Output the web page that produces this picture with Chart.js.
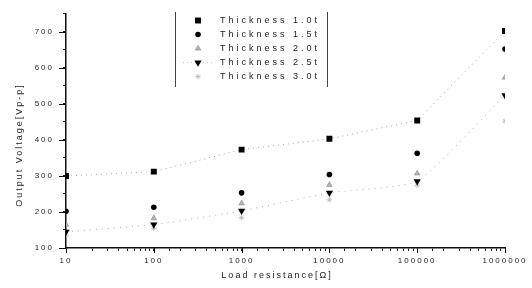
<!DOCTYPE html>
<html>
<head>
<meta charset="utf-8">
<script src="https://cdn.jsdelivr.net/npm/chart.js@4/dist/chart.umd.min.js"></script>
<style>
  html, body { margin: 0; padding: 0; background: #fff; }
  #wrap { position: relative; width: 532px; height: 288px; }
</style>
</head>
<body>
<div id="wrap"><canvas id="mainChart" width="532" height="288"></canvas></div>
<script>
// values
const resistance = [10, 100, 1000, 10000, 100000, 1000000];
const thick10 = [300, 312, 373, 403, 454, 702];
const thick15 = [202, 213, 253, 304, 363, 652];
const thick20 = [165, 183, 224, 275, 307, 573];
const thick25 = [145, 165, 203, 253, 285, 524];
const thick30 = [135, 154, 184, 234, 274, 452];
const seriesLabels = ['Thickness 1.0t', 'Thickness 1.5t', 'Thickness 2.0t', 'Thickness 2.5t', 'Thickness 3.0t'];
const yTitle = 'Output Voltage[Vp-p]';
const xTitle = 'Load resistance[\u03A9]';

const FONT = '"Liberation Sans", Arial, sans-serif';

function toPoints(values) {
    return resistance.map((r, i) => ({ x: r, y: values[i] }));
}

// small helper: draw a marker, via Chart.helpers if available
function drawMarker(ctx, ds, x, y) {
    const opts = { pointStyle: ds.pointStyle, radius: ds.pointRadius, rotation: ds.pointRotation || 0, borderWidth: ds.pointBorderWidth };
    ctx.fillStyle = ds.pointBackgroundColor;
    ctx.strokeStyle = ds.pointBorderColor;
    ctx.lineWidth = ds.pointBorderWidth;
    if (Chart.helpers && Chart.helpers.drawPoint) {
        Chart.helpers.drawPoint(ctx, opts, x, y);
    } else {
        ctx.beginPath();
        ctx.arc(x, y, ds.pointRadius, 0, Math.PI * 2);
        ctx.fill();
    }
}

const spacingPlugin = {
    id: 'spacing',
    beforeDraw(chart) {
        chart.ctx.letterSpacing = '2px';
    },
    afterDraw(chart) {
        const ctx = chart.ctx;
        const area = chart.chartArea;
        const xs = chart.scales.x, ys = chart.scales.y;

        ctx.save();
        // longer major ticks
        ctx.strokeStyle = '#111';
        ctx.lineWidth = 1;
        ctx.beginPath();
        for (let v = 100; v <= 700; v += 100) {
            const py = Math.round(ys.getPixelForValue(v)) + 0.5;
            ctx.moveTo(area.left - 7, py);
            ctx.lineTo(area.left, py);
        }
        resistance.forEach(r => {
            const px = Math.round(xs.getPixelForValue(r)) + 0.5;
            ctx.moveTo(px, area.bottom);
            ctx.lineTo(px, area.bottom + 5);
        });
        ctx.stroke();

        // axis titles
        ctx.fillStyle = '#222';
        ctx.font = '9px ' + FONT;
        ctx.letterSpacing = '2px';
        ctx.textAlign = 'center';
        ctx.textBaseline = 'middle';
        ctx.fillText(xTitle, 277, 276);
        ctx.save();
        ctx.translate(20, 145);
        ctx.rotate(-Math.PI / 2);
        ctx.fillText(yTitle, 0, 0);
        ctx.restore();

        // legend box (only left and right rules)
        ctx.strokeStyle = '#444';
        ctx.lineWidth = 1;
        ctx.beginPath();
        ctx.moveTo(175.5, 12); ctx.lineTo(175.5, 87);
        ctx.moveTo(327.5, 12); ctx.lineTo(327.5, 87);
        ctx.stroke();

        ctx.letterSpacing = '3px';
        ctx.textAlign = 'left';
        chart.data.datasets.forEach((ds, i) => {
            const y = 20.5 + i * 14;
            if (ds.legendLine) {
                ctx.save();
                ctx.strokeStyle = '#aaa';
                ctx.setLineDash([1, 3]);
                ctx.beginPath();
                ctx.moveTo(183, y); ctx.lineTo(213, y);
                ctx.stroke();
                ctx.restore();
            }
            drawMarker(ctx, ds, 198, y);
            ctx.fillStyle = '#222';
            ctx.fillText(ds.label, 220, y);
        });
        ctx.restore();
        ctx.letterSpacing = '0px';
    }
};

const ctx = document.getElementById('mainChart').getContext('2d');

const datasets = [
    {
        label: seriesLabels[0],
        data: toPoints(thick10),
        pointStyle: 'rect', pointRadius: 4.2,
        pointBackgroundColor: '#000', pointBorderColor: '#000', pointBorderWidth: 0,
        showLine: true, borderColor: '#a8a8a8', borderWidth: 1, borderDash: [1, 4], tension: 0,
        legendLine: false
    },
    {
        label: seriesLabels[1],
        data: toPoints(thick15),
        pointStyle: 'circle', pointRadius: 2.8,
        pointBackgroundColor: '#000', pointBorderColor: '#000', pointBorderWidth: 0,
        showLine: false
    },
    {
        label: seriesLabels[2],
        data: toPoints(thick20),
        pointStyle: 'triangle', pointRadius: 3.2,
        pointBackgroundColor: '#b5b5b5', pointBorderColor: '#888', pointBorderWidth: 0.6,
        showLine: false
    },
    {
        label: seriesLabels[3],
        data: toPoints(thick25),
        pointStyle: 'triangle', pointRadius: 4.2, pointRotation: 180,
        pointBackgroundColor: '#000', pointBorderColor: '#000', pointBorderWidth: 0,
        showLine: true, borderColor: '#b0b0b0', borderWidth: 1, borderDash: [1, 5], tension: 0.15,
        legendLine: true
    },
    {
        label: seriesLabels[4],
        data: toPoints(thick30),
        pointStyle: 'star', pointRadius: 2.8,
        pointBackgroundColor: '#c4c4c4', pointBorderColor: '#b8b8b8', pointBorderWidth: 0.8,
        showLine: false
    }
];

new Chart(ctx, {
    type: 'scatter',
    data: { datasets },
    options: {
        responsive: false,
        animation: false,
        layout: { padding: { top: 5, right: 27, bottom: 0, left: 0 } },
        plugins: {
            legend: { display: false },
            title: { display: false },
            tooltip: { enabled: false }
        },
        scales: {
            x: {
                type: 'logarithmic',
                min: 10,
                max: 1000000,
                afterFit: (scale) => { scale.height = 40; },
                border: { display: true, color: '#111', width: 1.5 },
                grid: { display: true, drawOnChartArea: false, drawTicks: true, tickLength: 3, color: '#222' },
                ticks: {
                    autoSkip: false,
                    maxRotation: 0,
                    padding: 5,
                    color: '#222',
                    font: { size: 8, family: FONT },
                    callback: function (value) {
                        const lg = Math.log10(value);
                        return Math.abs(lg - Math.round(lg)) < 1e-9 ? String(value) : '';
                    }
                }
            },
            y: {
                min: 100,
                max: 750,
                afterFit: (scale) => { scale.width = 66; },
                border: { display: true, color: '#111', width: 1.5 },
                grid: { display: true, drawOnChartArea: false, drawTicks: true, tickLength: 3, color: '#222' },
                ticks: {
                    stepSize: 50,
                    padding: 9,
                    color: '#222',
                    font: { size: 8, family: FONT },
                    callback: (v) => (v % 100 === 0 && v <= 700) ? String(v) : ''
                }
            }
        }
    },
    plugins: [spacingPlugin]
});
</script>
</body>
</html>
